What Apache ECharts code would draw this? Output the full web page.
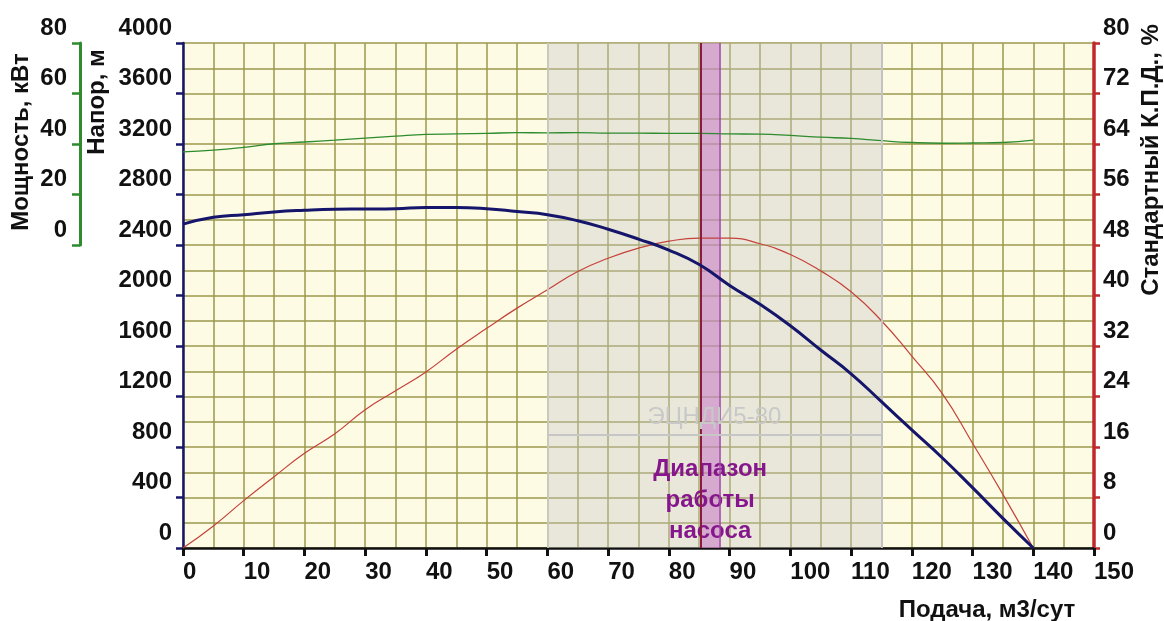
<!DOCTYPE html>
<html><head><meta charset="utf-8">
<script src="https://cdn.jsdelivr.net/npm/echarts@6/dist/echarts.min.js"></script>
<style>html,body{margin:0;padding:0;background:#fff}#c{width:1164px;height:621px}</style>
</head><body><div id="c"></div>
<script>
// ---- data ----
const flow       = [0, 5, 10, 15, 20, 25, 30, 35, 40, 45, 50, 55, 60, 65, 70, 75, 80, 85, 90, 95, 100, 105, 110, 115, 120, 125, 130, 135, 140];
const head       = [2565, 2619, 2640, 2662, 2675, 2683, 2685, 2688, 2698, 2698, 2688, 2665, 2640, 2592, 2525, 2447, 2360, 2245, 2080, 1930, 1760, 1568, 1380, 1159, 935, 715, 478, 235, 0];
const efficiency = [0, 3.5, 7.5, 11.3, 15.0, 18.1, 21.9, 24.9, 27.9, 31.5, 34.8, 38.0, 40.9, 43.8, 45.9, 47.5, 48.6, 49.1, 49.1, 48.2, 46.5, 43.9, 40.6, 36.0, 30.4, 24.5, 16.6, 8.5, 0];
const power      = [36.9, 37.6, 38.7, 40.1, 40.8, 41.5, 42.3, 43.1, 43.8, 44.0, 44.2, 44.5, 44.4, 44.5, 44.3, 44.3, 44.2, 44.2, 44.0, 43.9, 43.4, 42.7, 42.2, 41.3, 40.6, 40.3, 40.4, 40.6, 41.5];
const pumpModel     = 'ЭЦНДИ5-80';
const modelBand     = [60, 115];
const modelLineHead = 895;
const workRange     = [85.3, 88.3];
const workLabel     = 'Диапазон\nработы\nнасоса';
const xName   = 'Подача, м3/сут';
const headName  = 'Напор, м';
const powerName = 'Мощность, кВт';
const effName   = 'Стандартный К.П.Д., %';

const FONT = "'Liberation Sans', Arial, sans-serif";
const gridCol = '#9b994c';
const plain = v => String(v);
const lbl = {color:'#111', fontFamily:FONT, fontWeight:'bold', fontSize:24, formatter:plain};

const chart = echarts.init(document.getElementById('c'), null, {renderer:'canvas'});
const pairs = arr => flow.map((f,i)=>[f, arr[i]]);

chart.setOption({
  animation:false,
  backgroundColor:'#ffffff',
  grid:[
    {left:183, right:70, top:43, bottom:73, show:true, backgroundColor:'#fdfbe4', borderWidth:0},
    {left:183, right:70, top:43, height:202, show:false},
    {left:80, width:2, top:43, height:202, show:false}
  ],
  xAxis:[
    {type:'value', gridIndex:0, min:0, max:150, interval:10,
     axisLine:{show:true, onZero:false, lineStyle:{color:'#111', width:2.5}},
     axisTick:{show:true, length:8, lineStyle:{color:'#111', width:3}},
     axisLabel:Object.assign({margin:12, align:'left'}, lbl),
     splitLine:{show:true, lineStyle:{color:gridCol, width:1.5}},
     minorTick:{show:false, splitNumber:2},
     minorSplitLine:{show:true, lineStyle:{color:gridCol, width:1.5}}},
    {type:'value', gridIndex:1, min:0, max:150, show:false},
    {type:'value', gridIndex:2, min:0, max:1, show:false}
  ],
  yAxis:[
    {type:'value', gridIndex:0, min:0, max:4000, interval:400, position:'left',
     axisLine:{show:true, lineStyle:{color:'#16166a', width:2.5}},
     axisTick:{show:true, length:7, lineStyle:{color:'#16166a', width:2.5}},
     axisLabel:Object.assign({margin:11, verticalAlign:'bottom', padding:[0,0,3,0]}, lbl),
     splitLine:{show:true, lineStyle:{color:gridCol, width:1.5}},
     minorTick:{show:false, splitNumber:2},
     minorSplitLine:{show:true, lineStyle:{color:gridCol, width:1.5}}},
    {type:'value', gridIndex:0, min:0, max:80, interval:8, position:'right',
     axisLine:{show:true, lineStyle:{color:'#c0282d', width:3.5}},
     axisTick:{show:true, length:6, lineStyle:{color:'#c0282d', width:2.5}},
     axisLabel:Object.assign({margin:9, verticalAlign:'bottom', padding:[0,0,3,0]}, lbl),
     splitLine:{show:false}},
    {type:'value', gridIndex:1, min:0, max:80, interval:20, show:false},
    {type:'value', gridIndex:2, min:0, max:80, interval:20, position:'left',
     axisLine:{show:true, onZero:false, lineStyle:{color:'#2e8b2e', width:3}},
     axisTick:{show:true, length:8, lineStyle:{color:'#2e8b2e', width:2.5}},
     axisLabel:Object.assign({margin:13, verticalAlign:'bottom', padding:[0,0,3,0]}, lbl),
     splitLine:{show:false}}
  ],
  series:[
    {type:'line', xAxisIndex:0, yAxisIndex:0, data:[], z:1, silent:true,
     markArea:{silent:true, data:[
       [{xAxis:modelBand[0], itemStyle:{color:'rgba(200,200,200,0.38)', borderWidth:0}}, {xAxis:modelBand[1]}],
       [{xAxis:workRange[0], itemStyle:{color:'rgba(196,120,196,0.55)', borderWidth:0},
         label:{show:true, position:'insideBottom', distance:1, formatter:workLabel, color:'#86168c',
                fontFamily:FONT, fontWeight:'bold', fontSize:24, lineHeight:31, align:'center'}},
        {xAxis:workRange[1]}]
     ]},
     markLine:{silent:true, symbol:'none', label:{show:false}, data:[
       {xAxis:modelBand[0], lineStyle:{color:'#cfcfcf', width:1.5, type:'solid'}},
       {xAxis:modelBand[1], lineStyle:{color:'#c2c2c2', width:2, type:'solid'}},
       {xAxis:workRange[0], lineStyle:{color:'#8b1c40', width:2, type:'solid'}},
       {xAxis:workRange[1], lineStyle:{color:'#a040a8', width:1.5, type:'solid'}},
       [{coord:[modelBand[0], modelLineHead], lineStyle:{color:'#c6c6c6', width:2, type:'solid'},
         label:{show:true, position:'middle', distance:6, formatter:pumpModel, color:'#c8c8c8',
                fontFamily:FONT, fontSize:24}},
        {coord:[modelBand[1], modelLineHead]}]
     ]}
    },
    {type:'line', name:'head', xAxisIndex:0, yAxisIndex:0, data:pairs(head), smooth:0.5,
     showSymbol:false, symbol:'none', z:5, lineStyle:{color:'#15156b', width:3}},
    {type:'line', name:'eff', xAxisIndex:0, yAxisIndex:1, data:pairs(efficiency), smooth:0.5,
     showSymbol:false, symbol:'none', z:4, lineStyle:{color:'#c4423a', width:1.2}},
    {type:'line', name:'power', xAxisIndex:1, yAxisIndex:2, data:pairs(power), smooth:0.5,
     showSymbol:false, symbol:'none', z:4, lineStyle:{color:'#2e8b2e', width:1.3}}
  ],
  graphic:[
    {type:'text', x:21, y:142, rotation:Math.PI/2,
     style:{text:powerName, fill:'#111', font:"bold 24px "+FONT, textAlign:'center', textVerticalAlign:'middle'}},
    {type:'text', x:97, y:102, rotation:Math.PI/2,
     style:{text:headName, fill:'#111', font:"bold 24px "+FONT, textAlign:'center', textVerticalAlign:'middle'}},
    {type:'text', x:1151, y:160, rotation:Math.PI/2,
     style:{text:effName, fill:'#111', font:"bold 24px "+FONT, textAlign:'center', textVerticalAlign:'middle'}},
    {type:'text', x:987, y:610,
     style:{text:xName, fill:'#111', font:"bold 24px "+FONT, textAlign:'center', textVerticalAlign:'middle'}}
  ]
});
</script></body></html>
